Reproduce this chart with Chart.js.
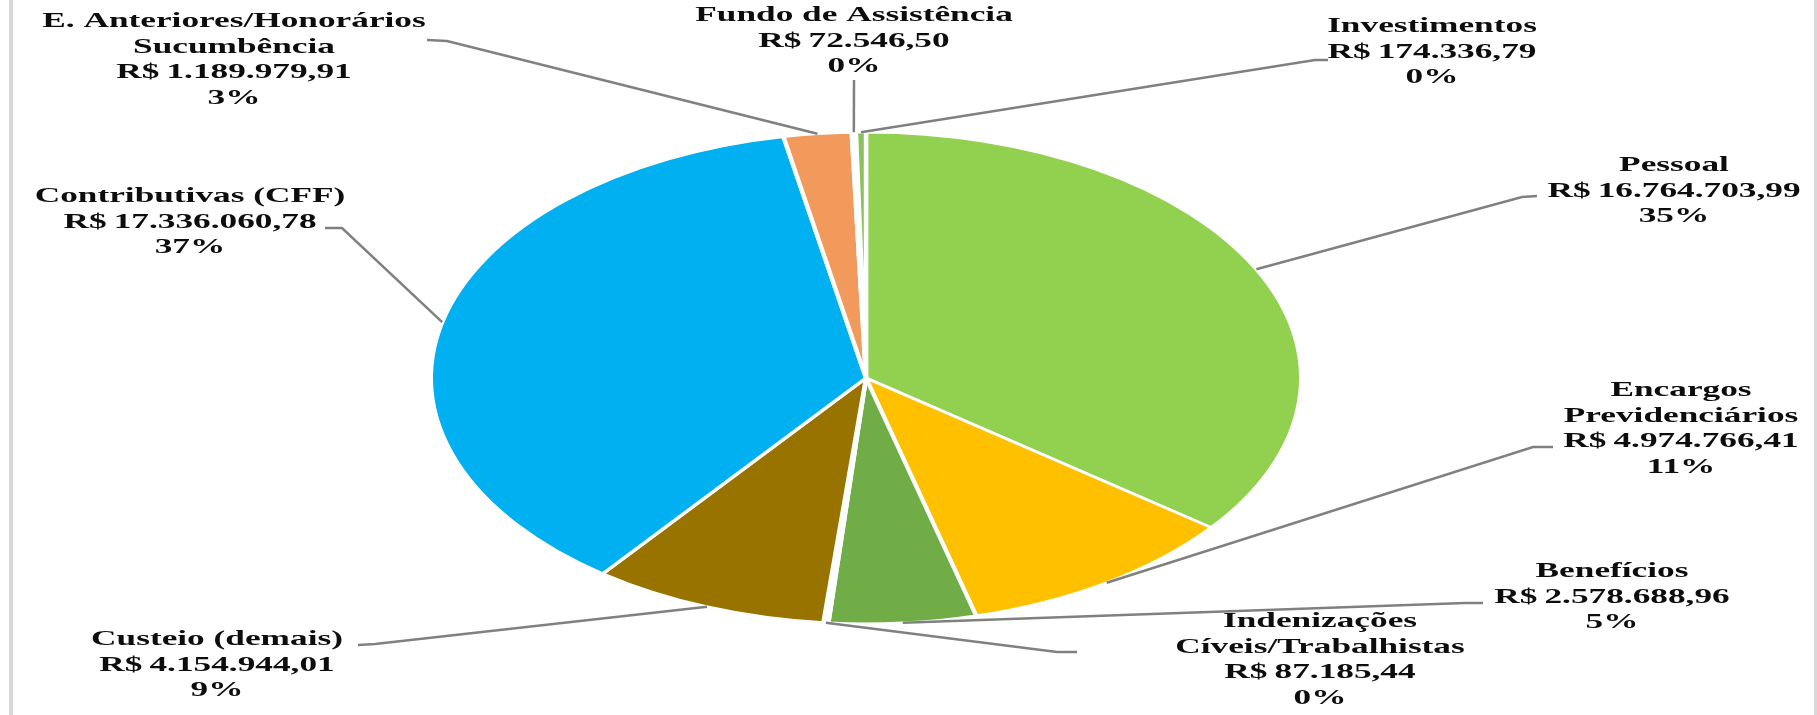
<!DOCTYPE html>
<html lang="pt-BR">
<head>
<meta charset="utf-8">
<title>Despesas</title>
<script src="https://cdn.jsdelivr.net/npm/chart.js@4/dist/chart.umd.min.js"></script>
<style>
    html, body { margin: 0; padding: 0; background: #ffffff; }
    #wrap { position: relative; width: 1817px; height: 715px; overflow: hidden; }
    .barra { position: absolute; top: 0; height: 715px; background: #D9D9D9; }
    canvas { position: absolute; left: 0; top: 0; }
</style>
</head>
<body>
<div id="wrap">
    <canvas id="pieChart" width="1817" height="715"></canvas>
    <div class="barra" style="left:9px;width:4px"></div>
    <div class="barra" style="left:1814px;width:3px"></div>
</div>
<script>
// Dados do gráfico (ordem horária a partir do topo)
const categorias = [
    ['Pessoal'],
    ['Encargos', 'Previdenciários'],
    ['Benefícios'],
    ['Indenizações', 'Cíveis/Trabalhistas'],
    ['Custeio (demais)'],
    ['Contributivas (CFF)'],
    ['E. Anteriores/Honorários', 'Sucumbência'],
    ['Fundo de Assistência'],
    ['Investimentos']
];
const valores = [16764703.99, 4974766.41, 2578688.96, 87185.44, 4154944.01, 17336060.78, 1189979.91, 72546.50, 174336.79];
const cores = ['#92D050', '#FFC000', '#70AD47', '#F2F2F2', '#997300', '#00B0F0', '#F2995C', '#FFFFFF', '#8DC060'];

// Posição dos rótulos: centro do texto, primeira linha de base, cotovelo e fim da linha guia
const rotulos = [
    { x: 1674, y: 171, cotovelo: [1522, 197], fim: [1537, 196] },
    { x: 1681, y: 396, cotovelo: [1533, 447], fim: [1553, 447] },
    { x: 1612, y: 577, cotovelo: [1465, 603], fim: [1483, 603] },
    { x: 1320, y: 627, cotovelo: [1057, 652], fim: [1077, 652] },
    { x: 217,  y: 645, cotovelo: [375, 644],  fim: [358, 645] },
    { x: 190,  y: 202, cotovelo: [342, 228],  fim: [325, 228] },
    { x: 234,  y: 27,  cotovelo: [447, 41],   fim: [427, 40] },
    { x: 854,  y: 21,  cotovelo: [854, 80],   fim: [854, 80] },
    { x: 1432, y: 32,  cotovelo: [1315, 60],  fim: [1328, 60] }
];

const ESTICA_PIZZA = 1.771;   // pizza achatada (elipse)
const ESTICA_TEXTO = 1.68;    // texto também esticado na horizontal
const ALTURA_LINHA = 25.5;
const COR_LINHA = '#808080';
const FONTE = 'bold 21px "Liberation Serif", "DejaVu Serif", serif';

function formataReal(v) {
    const [inteiro, dec] = v.toFixed(2).split('.');
    return 'R$\u2009' + inteiro.replace(/\B(?=(\d{3})+(?!\d))/g, '.') + ',' + dec;
}

const total = valores.reduce((a, b) => a + b, 0);

// Plugin: transforma o círculo em elipse
const pluginElipse = {
    id: 'elipse',
    beforeDatasetsDraw(chart) {
        const arco = chart.getDatasetMeta(0).data[0];
        const ctx = chart.ctx;
        ctx.save();
        ctx.translate(arco.x, arco.y);
        ctx.scale(ESTICA_PIZZA, 1);
        ctx.translate(-arco.x, -arco.y);
    },
    afterDatasetsDraw(chart) {
        chart.ctx.restore();
    }
};

// Plugin: rótulos com linhas guia
const pluginRotulos = {
    id: 'rotulos',
    afterDraw(chart) {
        const ctx = chart.ctx;
        const meta = chart.getDatasetMeta(0);
        meta.data.forEach((arco, i) => {
            const r = rotulos[i];
            const meio = (arco.startAngle + arco.endAngle) / 2;
            const px = arco.x + Math.cos(meio) * arco.outerRadius * ESTICA_PIZZA;
            const py = arco.y + Math.sin(meio) * arco.outerRadius;

            ctx.save();
            ctx.strokeStyle = COR_LINHA;
            ctx.lineWidth = 2.5;
            ctx.beginPath();
            ctx.moveTo(px, py);
            ctx.lineTo(r.cotovelo[0], r.cotovelo[1]);
            ctx.lineTo(r.fim[0], r.fim[1]);
            ctx.stroke();
            ctx.restore();

            const linhas = categorias[i].concat([
                formataReal(valores[i]),
                Math.round(valores[i] / total * 100) + '%'
            ]);
            ctx.save();
            ctx.font = FONTE;
            ctx.fillStyle = '#0d0d0d';
            ctx.textAlign = 'center';
            ctx.textBaseline = 'alphabetic';
            linhas.forEach((txt, k) => {
                ctx.save();
                ctx.translate(r.x, r.y + k * ALTURA_LINHA);
                ctx.scale(ESTICA_TEXTO, 1);
                ctx.fillText(txt, 0, 0);
                ctx.restore();
            });
            ctx.restore();
        });
    }
};

document.addEventListener('DOMContentLoaded', () => {
    const ctx = document.getElementById('pieChart').getContext('2d');
    new Chart(ctx, {
        type: 'pie',
        data: {
            labels: categorias,
            datasets: [{
                data: valores,
                backgroundColor: cores,
                borderColor: '#FFFFFF',
                borderWidth: 2.5,
                clip: false
            }]
        },
        options: {
            responsive: false,
            animation: false,
            devicePixelRatio: 1,
            layout: { padding: { left: 619, right: 704, top: 131, bottom: 90 } },
            plugins: {
                legend: { display: false },
                tooltip: { enabled: false }
            }
        },
        plugins: [pluginElipse, pluginRotulos]
    });
});
</script>
</body>
</html>
